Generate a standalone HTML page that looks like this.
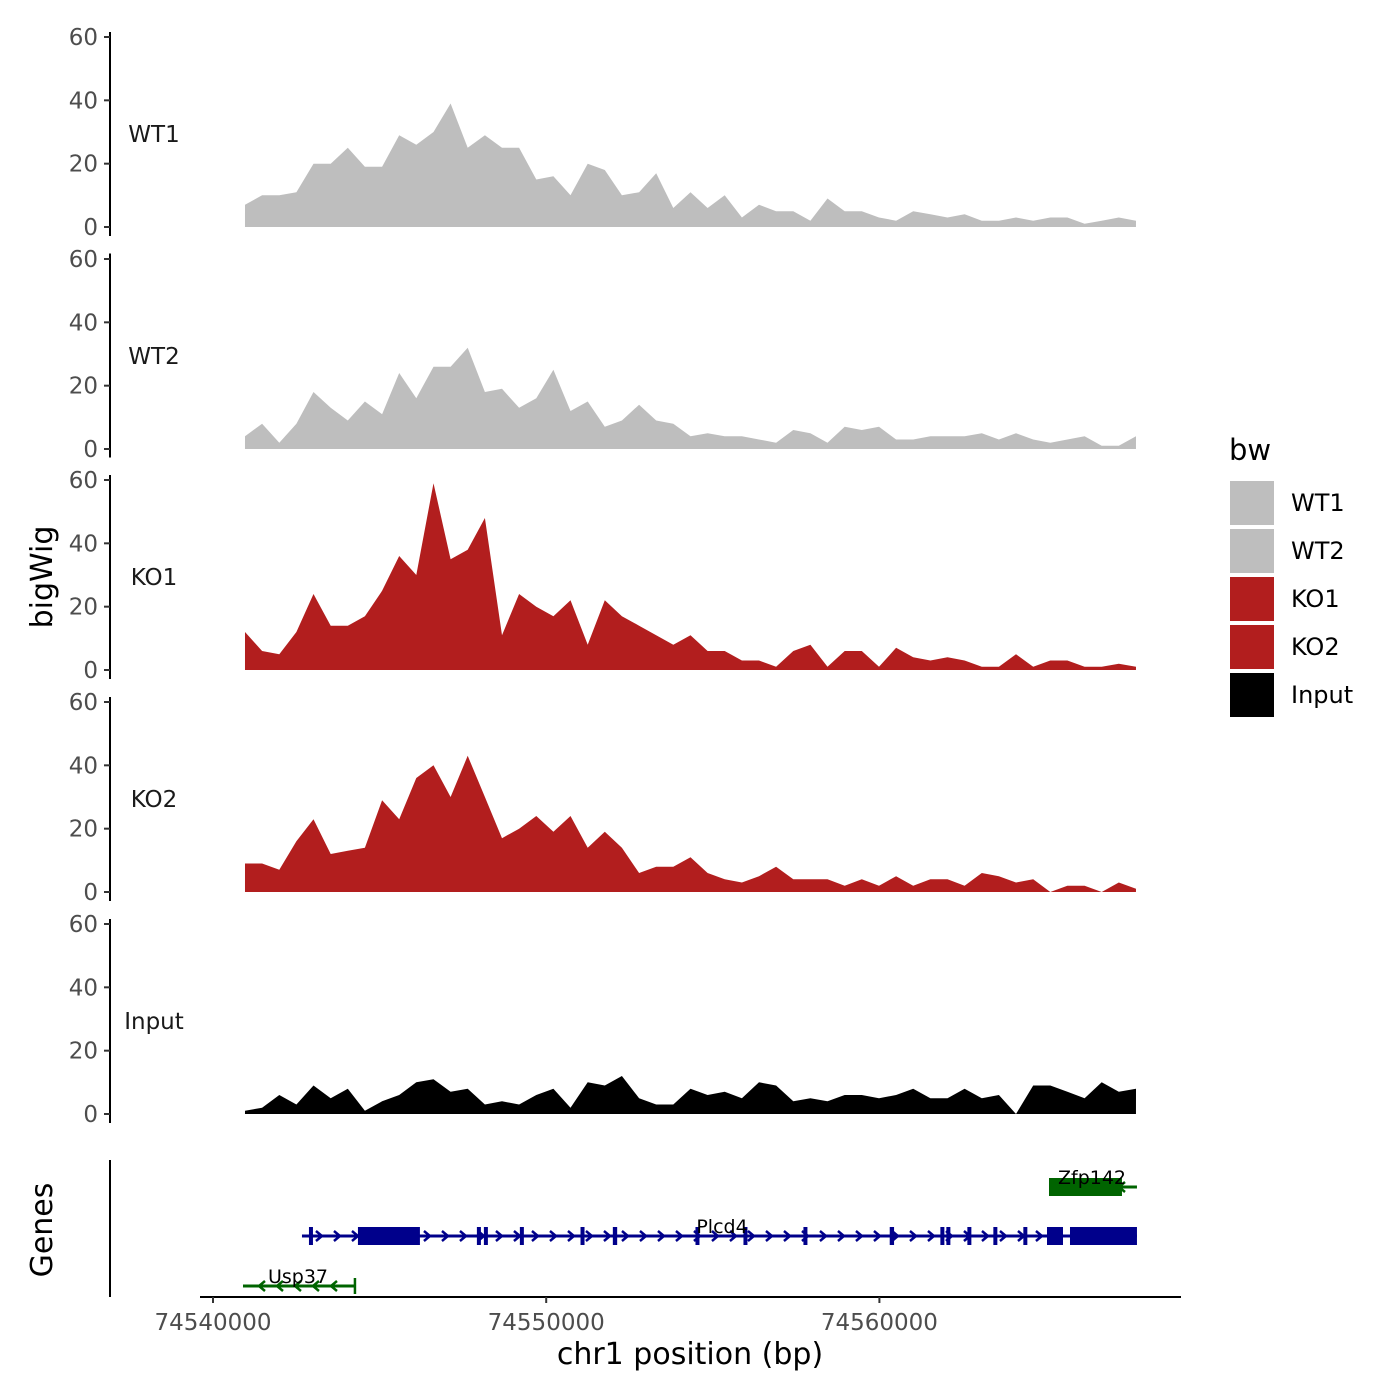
<!DOCTYPE html>
<html><head><meta charset="utf-8"><style>
body{margin:0;background:#fff}
svg{display:block}
text{font-family:"DejaVu Sans","Liberation Sans",sans-serif}
</style></head><body>
<svg id="c" width="1400" height="1400" xmlns="http://www.w3.org/2000/svg"></svg>
<script>
const trackNames = ["WT1","WT2","KO1","KO2","Input"];
const trackColors = ["#bebebe","#bebebe","#b21e1e","#b21e1e","#000000"];
const wt1 = [7,10,10,11,20,20,25,19,19,29,26,30,39,25,29,25,25,15,16,10,20,18,10,11,17,6,11,6,10,3,7,5,5,2,9,5,5,3,2,5,4,3,4,2,2,3,2,3,3,1,2,3,2];
const wt2 = [4,8,2,8,18,13,9,15,11,24,16,26,26,32,18,19,13,16,25,12,15,7,9,14,9,8,4,5,4,4,3,2,6,5,2,7,6,7,3,3,4,4,4,5,3,5,3,2,3,4,1,1,4];
const ko1 = [12,6,5,12,24,14,14,17,25,36,30,59,35,38,48,11,24,20,17,22,8,22,17,14,11,8,11,6,6,3,3,1,6,8,1,6,6,1,7,4,3,4,3,1,1,5,1,3,3,1,1,2,1];
const ko2 = [9,9,7,16,23,12,13,14,29,23,36,40,30,43,30,17,20,24,19,24,14,19,14,6,8,8,11,6,4,3,5,8,4,4,4,2,4,2,5,2,4,4,2,6,5,3,4,0,2,2,0,3,1];
const inputSig = [1,2,6,3,9,5,8,1,4,6,10,11,7,8,3,4,3,6,8,2,10,9,12,5,3,3,8,6,7,5,10,9,4,5,4,6,6,5,6,8,5,5,8,5,6,0,9,9,7,5,10,7,8];
const trackValues = [wt1,wt2,ko1,ko2,inputSig];
const binStart = 74540960, binEnd = 74567700;
const yTicks = [0,20,40,60];
const xTicks = [74540000,74550000,74560000];
const xTickLabels = ["74540000","74550000","74560000"];
const geneNames = ["Zfp142","Plcd4","Usp37"];
const geneStarts = [74565090,74542670,74540900];
const geneEnds = [74567730,74567730,74544260];
const geneRows = [0,1,2];
const geneColors = ["#006400","#00008b","#006400"];
const geneStrand = [-1,1,-1];
const plcd4Exons = [[74542880,74543000],[74544350,74546210],[74547920,74548000],[74548130,74548210],[74549210,74549330],[74551030,74551110],[74552000,74552130],[74554480,74554570],[74555920,74556010],[74557720,74557810],[74560310,74560440],[74561830,74561930],[74562010,74562110],[74562640,74562730],[74563420,74563510],[74564320,74564410],[74565030,74565510],[74565720,74567730]];
const zfpExons = [[74565090,74567280]];

const NS="http://www.w3.org/2000/svg";
const svg=document.getElementById('c');
function el(t,a,p){const e=document.createElementNS(NS,t);for(const k in a)e.setAttribute(k,a[k]);(p||svg).appendChild(e);return e;}
const xS = bp => 213 + (bp-74540000)*333.2/10000;
const panelTop=[32,253.5,475,697,919], base=[227,449,670,892,1114];
const ppu = 190/60;

trackNames.forEach((nm,t)=>{
  const g=el('g',{});
  
  
  const yS=v=>base[t]-v*ppu;
  const vals=trackValues[t]; const n=vals.length;
  let d='M'+xS(binStart)+','+yS(0);
  vals.forEach((v,i)=>{const bp=binStart+(binEnd-binStart)*i/(n-1);d+=' L'+xS(bp).toFixed(1)+','+yS(v).toFixed(1);});
  d+=' L'+xS(binEnd)+','+yS(0)+' Z';
  const p=el('path',{d:d,fill:trackColors[t]},g);
  
  
  const ax=el('line',{x1:110,x2:110,y1:panelTop[t],y2:panelTop[t]+204,stroke:'#000','stroke-width':2},g);
  
  
  yTicks.forEach(v=>{
    el('line',{x1:104,x2:110,y1:yS(v),y2:yS(v),stroke:'#333','stroke-width':2},g);
    const tx=el('text',{x:98,y:yS(v)+8,'text-anchor':'end','font-size':23,fill:'#4d4d4d'},g);
    tx.textContent=v;
    
    
  });
  const lb=el('text',{x:154,y:base[t]-85,'text-anchor':'middle','font-size':23,fill:'#1a1a1a'},g);
  lb.textContent=nm;
  
  
});

const gp=el('g',{});


el('line',{x1:110,x2:110,y1:1160,y2:1297,stroke:'#000','stroke-width':2},gp);
el('line',{x1:200,x2:1181,y1:1297,y2:1297,stroke:'#000','stroke-width':2},gp);
const rowY=[1187,1236,1286];
function chevrons(g,x1,x2,y,dir,col){
  for(let x=x1+18;x<x2-6;x+=18){
    el('path',{d:dir>0?`M${x-4},${y-5} L${x+2},${y} L${x-4},${y+5}`:`M${x+4},${y-5} L${x-2},${y} L${x+4},${y+5}`,stroke:col,'stroke-width':2.5,fill:'none'},g);
  }
}
geneNames.forEach((nm,i)=>{
  const g=el('g',{},gp);
  
  
  const y=rowY[geneRows[i]], x1=xS(geneStarts[i]), x2=xS(geneEnds[i]), c=geneColors[i];
  el('line',{x1:x1,x2:x2,y1:y,y2:y,stroke:c,'stroke-width':3},g);
  chevrons(g,x1,x2,y,geneStrand[i],c);
  const ex = nm==='Plcd4'?plcd4Exons:(nm==='Zfp142'?zfpExons:[]);
  ex.forEach(e=>el('rect',{x:xS(e[0]),y:y-9,width:Math.max(4,xS(e[1])-xS(e[0])),height:18,fill:c},g));
  if(nm==='Usp37') el('line',{x1:x2,x2:x2,y1:y-8,y2:y+8,stroke:c,'stroke-width':2.5},g);
  const lx = nm==='Zfp142'?1092:(nm==='Plcd4'?722:298);
  const t=el('text',{x:lx,y:y-3,'text-anchor':'middle','font-size':19,fill:'#000'},g);
  t.textContent=nm;
});

xTicks.forEach((bp,i)=>{
  el('line',{x1:xS(bp),x2:xS(bp),y1:1297,y2:1303,stroke:'#333','stroke-width':2});
  const t=el('text',{x:xS(bp),y:1330,'text-anchor':'middle','font-size':23,fill:'#4d4d4d'});
  t.textContent=xTickLabels[i];
  
  
});
let t=el('text',{x:690,y:1364,'text-anchor':'middle','font-size':30,fill:'#000'});
t.textContent='chr1 position (bp)';


t=el('text',{x:0,y:0,'text-anchor':'middle','font-size':30,fill:'#000',transform:'translate(52,577) rotate(-90)'});
t.textContent='bigWig';


t=el('text',{x:0,y:0,'text-anchor':'middle','font-size':30,fill:'#000',transform:'translate(52,1230) rotate(-90)'});
t.textContent='Genes';



const lg=el('g',{});


t=el('text',{x:1229,y:460,'font-size':29,fill:'#000'},lg);
t.textContent='bw';
trackNames.forEach((nm,i)=>{
  const e=el('g',{},lg);
  
  
  el('rect',{x:1230,y:481+i*48,width:44,height:44,fill:trackColors[i]},e);
  const tx=el('text',{x:1291,y:511+i*48,'font-size':24,fill:'#000'},e);
  tx.textContent=nm;
});
</script>
</body></html>
